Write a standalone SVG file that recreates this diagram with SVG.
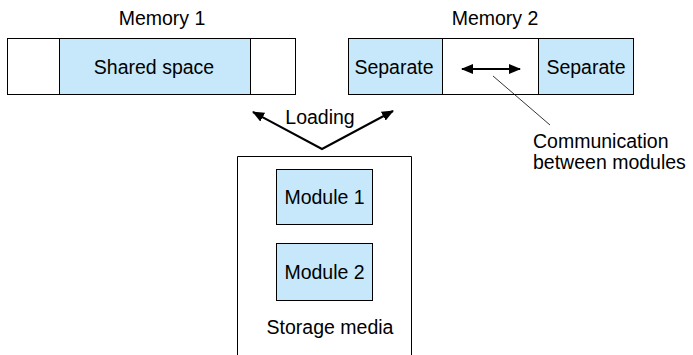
<svg xmlns="http://www.w3.org/2000/svg" width="693" height="355" viewBox="0 0 693 355">
<defs>
<style>
text{font-family:"Liberation Sans",Arial,sans-serif;font-size:19.5px;fill:#000}
.box{fill:#fff;stroke:#000;stroke-width:1}
.blue{fill:#c6e8fa;stroke:#000;stroke-width:1}
.conn{fill:none;stroke:#000;stroke-width:2}
.thin{fill:none;stroke:#000;stroke-width:0.8}
</style>
<marker id="ah" viewBox="0 0 12 10" refX="11" refY="5" markerWidth="6" markerHeight="5" orient="auto-start-reverse" markerUnits="strokeWidth">
<path d="M0,0 L12,5 L0,10 z" fill="#000"/>
</marker>
</defs>
<rect width="693" height="355" fill="#fff"/>
<g id="memory1">
<text x="162" y="25" text-anchor="middle">Memory 1</text>
<rect class="box" x="7.5" y="38.5" width="288" height="56"/>
<rect class="blue" x="59.5" y="38.5" width="191" height="56"/>
<text x="154" y="74" text-anchor="middle">Shared space</text>
</g>
<g id="memory2">
<text x="495" y="25" text-anchor="middle">Memory 2</text>
<rect class="box" x="348.5" y="38.5" width="285" height="56"/>
<rect class="blue" x="348.5" y="38.5" width="94" height="56"/>
<rect class="blue" x="538.5" y="38.5" width="95" height="56"/>
<text x="394" y="74" text-anchor="middle">Separate</text>
<text x="586" y="74" text-anchor="middle">Separate</text>
</g>
<g id="storage">
<path class="box" d="M237.5,356 V156.5 H411.5 V356"/>
<rect class="blue" x="276.5" y="169.5" width="96" height="55"/>
<text x="324.5" y="204" text-anchor="middle">Module 1</text>
<rect class="blue" x="276.5" y="243.5" width="96" height="57"/>
<text x="324.5" y="279" text-anchor="middle">Module 2</text>
<text x="330" y="334" text-anchor="middle">Storage media</text>
</g>
<g id="label-loading">
<text x="320" y="124" text-anchor="middle">Loading</text>
</g>
<g id="label-comm">
<text x="533" y="148">Communication</text>
<text x="533" y="169">between modules</text>
</g>
<g id="connectors">
<polyline class="conn" points="253,112 322,149 393,111" marker-start="url(#ah)" marker-end="url(#ah)"/>
<line class="conn" x1="462" y1="69" x2="520" y2="69" marker-start="url(#ah)" marker-end="url(#ah)"/>
<line class="thin" x1="493" y1="76" x2="550" y2="125"/>
</g>
</svg>
